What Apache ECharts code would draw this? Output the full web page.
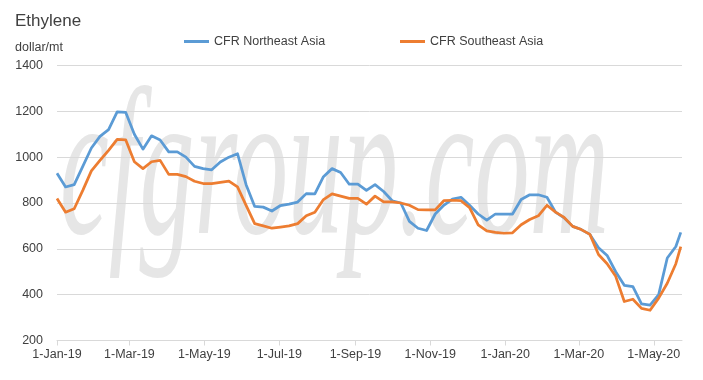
<!DOCTYPE html>
<html>
<head>
<meta charset="utf-8">
<script src="https://cdn.jsdelivr.net/npm/echarts@6/dist/echarts.min.js"></script>
<style>
html,body{margin:0;padding:0;background:#fff;}
#chart{width:703px;height:380px;}
</style>
</head>
<body>
<div id="chart"></div>
<script>
// Weekly sample dates (2019-01-01 .. 2020-05-23)
const sampleDates = [
'2019-01-01','2019-01-08','2019-01-15','2019-01-22','2019-01-29','2019-02-05','2019-02-12','2019-02-19','2019-02-26',
'2019-03-05','2019-03-12','2019-03-19','2019-03-26','2019-04-02','2019-04-09','2019-04-16','2019-04-23','2019-04-30',
'2019-05-07','2019-05-14','2019-05-21','2019-05-28','2019-06-04','2019-06-11','2019-06-18','2019-06-25','2019-07-02',
'2019-07-09','2019-07-16','2019-07-23','2019-07-30','2019-08-06','2019-08-13','2019-08-20','2019-08-27','2019-09-03',
'2019-09-10','2019-09-17','2019-09-24','2019-10-01','2019-10-08','2019-10-15','2019-10-22','2019-10-29','2019-11-05',
'2019-11-12','2019-11-19','2019-11-26','2019-12-03','2019-12-10','2019-12-17','2019-12-24','2019-12-31','2020-01-07',
'2020-01-14','2020-01-21','2020-01-28','2020-02-04','2020-02-11','2020-02-18','2020-02-25','2020-03-03','2020-03-10',
'2020-03-17','2020-03-24','2020-03-31','2020-04-07','2020-04-14','2020-04-21','2020-04-28','2020-05-05','2020-05-12',
'2020-05-19','2020-05-23'
];
const northeastAsia = [
930,870,880,960,1040,1091,1120,1198,1195,1100,1035,1093,1075,1023,1023,1000,960,950,945,979,1000,1015,880,785,782,765,
789,795,804,841,840,915,950,933,882,882,855,880,850,810,800,720,690,680,752,790,817,825,790,752,725,752,752,752,815,836,
836,825,760,735,698,684,663,605,571,500,441,435,360,354,400,560,610,672
];
const southeastAsia = [
820,760,775,855,940,986,1030,1078,1075,980,950,980,986,925,925,915,895,885,885,890,895,870,790,710,700,690,695,700,710,
744,760,815,840,830,820,820,795,830,805,805,800,790,771,770,770,810,812,810,780,705,678,672,668,670,705,728,744,790,760,
737,698,684,663,575,535,480,370,380,340,332,385,450,535,610
];
const seriesNames = ['CFR Northeast Asia','CFR Southeast Asia'];
const tickDates = ['2019-01-01','2019-03-01','2019-05-01','2019-07-01','2019-09-01','2019-11-01','2020-01-01','2020-03-01','2020-05-01'];
const tickLabels = ['1-Jan-19','1-Mar-19','1-May-19','1-Jul-19','1-Sep-19','1-Nov-19','1-Jan-20','1-Mar-20','1-May-20'];

function ts(s){const p=s.split('-');return Date.UTC(+p[0],+p[1]-1,+p[2]);}
const tickTs = tickDates.map(ts);
const labelMap = {};
tickTs.forEach((t,i)=>{labelMap[t]=tickLabels[i];});

const chart = echarts.init(document.getElementById('chart'), null, {renderer:'canvas'});
const FONT = '"Liberation Sans", Arial, sans-serif';
const option = {
  animation:false,
  backgroundColor:'#fff',
  title:[
    {text:'Ethylene', left:10, top:8, textStyle:{fontFamily:FONT, fontSize:17, fontWeight:'normal', color:'#404040'}},
    {text:'dollar/mt', left:10, top:36, textStyle:{fontFamily:FONT, fontSize:12.5, fontWeight:'normal', color:'#404040'}}
  ],
  legend:[
    {data:[seriesNames[0]], left:179, top:30, icon:'rect', itemWidth:25, itemHeight:3, itemGap:0,
     textStyle:{fontFamily:FONT, fontSize:12.5, color:'#404040'}},
    {data:[seriesNames[1]], left:395, top:30, icon:'rect', itemWidth:25, itemHeight:3, itemGap:0,
     textStyle:{fontFamily:FONT, fontSize:12.5, color:'#404040'}}
  ],
  graphic:[
    {type:'text', x:60, y:283, scaleY:1.9, z:-10, silent:true,
     style:{text:'cfgroup.com', x:0, y:0, textVerticalAlign:'bottom',
            font:'italic 110px "Liberation Serif", "DejaVu Serif", serif', fill:'#e6e6e6'}}
  ],
  grid:{left:57, right:21, top:65.5, bottom:39.5},
  xAxis:{
    type:'value',
    min:ts('2019-01-01'), max:ts('2020-05-24'),
    axisLine:{show:true, lineStyle:{color:'#d9d9d9', width:1}},
    axisTick:{show:true, length:5, lineStyle:{color:'#d9d9d9'}, customValues:tickTs},
    axisLabel:{customValues:tickTs, formatter:(v)=>labelMap[v]||'', fontFamily:FONT, fontSize:12.5, color:'#404040', margin:8, hideOverlap:false, showMinLabel:true, showMaxLabel:true},
    splitLine:{show:false}
  },
  yAxis:{
    type:'value', min:200, max:1400, interval:200,
    axisLine:{show:false}, axisTick:{show:false},
    axisLabel:{formatter:(v)=>String(v), fontFamily:FONT, fontSize:12.5, color:'#404040', margin:14},
    splitLine:{lineStyle:{color:'#d9d9d9', width:1}}
  },
  series:[
    {name:seriesNames[0], type:'line', showSymbol:false, symbol:'none', color:'#5B9BD5',
     lineStyle:{width:2.75, color:'#5B9BD5', join:'round'},
     data:sampleDates.map((d,i)=>[ts(d), northeastAsia[i]])},
    {name:seriesNames[1], type:'line', showSymbol:false, symbol:'none', color:'#ED7D31',
     lineStyle:{width:2.75, color:'#ED7D31', join:'round'},
     data:sampleDates.map((d,i)=>[ts(d), southeastAsia[i]])}
  ]
};
chart.setOption(option);
</script>
</body>
</html>
